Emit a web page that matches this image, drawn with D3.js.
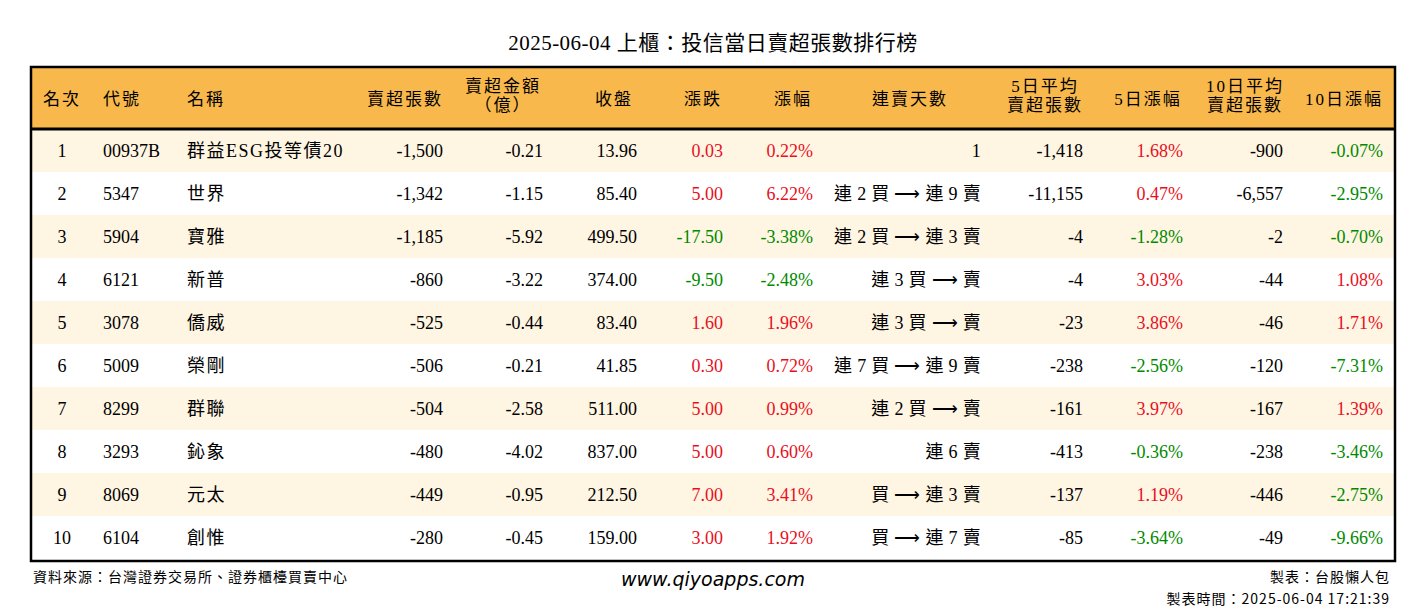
<!DOCTYPE html>
<html><head><meta charset="utf-8">
<script src="https://cdn.jsdelivr.net/npm/d3@7"></script>
<style>body{margin:0;background:#fff}</style>
</head><body>
<script>
var codes = ['00937B','5347','5904','6121','3078','5009','8299','3293','8069','6104'],
  names = ['群益ESG投等債20','世界','寶雅','新普','僑威','榮剛','群聯','鈊象','元太','創惟'],
  netSell = [-1500,-1342,-1185,-860,-525,-506,-504,-480,-449,-280],
  amount = [-0.21,-1.15,-5.92,-3.22,-0.44,-0.21,-2.58,-4.02,-0.95,-0.45],
  close = [13.96,85.40,499.50,374.00,83.40,41.85,511.00,837.00,212.50,159.00],
  change = [0.03,5.00,-17.50,-9.50,1.60,0.30,5.00,5.00,7.00,3.00],
  pct = [0.22,6.22,-3.38,-2.48,1.96,0.72,0.99,0.60,3.41,1.92],
  streak = ['1','連 2 買 ⟶ 連 9 賣','連 2 買 ⟶ 連 3 賣','連 3 買 ⟶ 賣','連 3 買 ⟶ 賣','連 7 買 ⟶ 連 9 賣','連 2 買 ⟶ 賣','連 6 賣','買 ⟶ 連 3 賣','買 ⟶ 連 7 賣'],
  avg5 = [-1418,-11155,-4,-4,-23,-238,-161,-413,-137,-85],
  pct5 = [1.68,0.47,-1.28,3.03,3.86,-2.56,3.97,-0.36,1.19,-3.64],
  avg10 = [-900,-6557,-2,-44,-46,-120,-167,-238,-446,-49],
  pct10 = [-0.07,-2.95,-0.70,1.08,1.71,-7.31,1.39,-3.46,-2.75,-9.66];

var W = 1426, H = 612, x0 = 31, x1 = 1395, hTop = 67, hBot = 129, rowH = 43;
var serif = "'Liberation Serif','Times New Roman','Noto Sans CJK TC',serif";
var loc = d3.formatLocale({decimal: '.', thousands: ',', grouping: [3], currency: ['', ''], minus: '-'});
var fmtInt = loc.format(','), f2 = loc.format('.2f');
var pc = function (v) { return f2(v) + '%'; };
var col = function (v) { return v > 0 ? '#e8101e' : v < 0 ? '#008a00' : '#000'; };

var svg = d3.select('body').append('svg').attr('width', W).attr('height', H)
  .style('font-family', serif);

svg.append('text').attr('x', W / 2).attr('y', 50).attr('text-anchor', 'middle')
  .attr('font-size', 21).attr('letter-spacing', 0.5).text('2025-06-04 上櫃：投信當日賣超張數排行榜');

var y = d3.scaleBand().domain(d3.range(10)).range([hBot, hBot + rowH * 10]);

svg.append('rect').attr('x', x0).attr('y', hTop).attr('width', x1 - x0).attr('height', hBot - hTop).attr('fill', '#f8b84b');
svg.selectAll('rect.row').data(d3.range(10)).enter().append('rect').attr('class', 'row')
  .attr('x', x0).attr('y', function (i) { return y(i); }).attr('width', x1 - x0).attr('height', rowH)
  .attr('fill', function (i) { return i % 2 ? '#fff' : '#fef5e3'; });

var cols = [
  {h: ['名次'], a: 'middle', x: 62, hx: 62, v: function (i) { return i + 1; }},
  {h: ['代號'], a: 'start', x: 103, hx: 103, v: function (i) { return codes[i]; }},
  {h: ['名稱'], a: 'start', x: 187, hx: 187, ls: 1.5, v: function (i) { return names[i]; }},
  {h: ['賣超張數'], a: 'end', x: 443, hx: 443, v: function (i) { return fmtInt(netSell[i]); }},
  {h: ['賣超金額', '（億）'], a: 'end', x: 543, hx: 503, v: function (i) { return f2(amount[i]); }},
  {h: ['收盤'], a: 'end', x: 637, hx: 614, v: function (i) { return f2(close[i]); }},
  {h: ['漲跌'], a: 'end', x: 723, hx: 703, v: function (i) { return f2(change[i]); }, c: function (i) { return col(change[i]); }},
  {h: ['漲幅'], a: 'end', x: 813, hx: 793, v: function (i) { return pc(pct[i]); }, c: function (i) { return col(pct[i]); }},
  {h: ['連賣天數'], a: 'end', x: 981, hx: 910, ls: 0.3, v: function (i) { return streak[i]; }},
  {h: ['5日平均', '賣超張數'], a: 'end', x: 1083, hx: 1045, v: function (i) { return fmtInt(avg5[i]); }},
  {h: ['5日漲幅'], a: 'end', x: 1183, hx: 1148, v: function (i) { return pc(pct5[i]); }, c: function (i) { return col(pct5[i]); }},
  {h: ['10日平均', '賣超張數'], a: 'end', x: 1283, hx: 1245, v: function (i) { return fmtInt(avg10[i]); }},
  {h: ['10日漲幅'], a: 'end', x: 1383, hx: 1344, v: function (i) { return pc(pct10[i]); }, c: function (i) { return col(pct10[i]); }}
];

cols.forEach(function (c) {
  var ha = (c.a === 'start' || c.hx === c.x) ? c.a : 'middle';
  c.h.forEach(function (t, k) {
    var yy = c.h.length === 1 ? 105 : 92 + k * 19;
    svg.append('text').attr('x', c.hx).attr('y', yy).attr('text-anchor', ha)
      .attr('font-size', 17).attr('letter-spacing', 2).text(t);
  });
  svg.selectAll(null).data(d3.range(10)).enter().append('text')
    .attr('x', c.x).attr('y', function (i) { return y(i) + rowH / 2 + 6; })
    .attr('text-anchor', c.a).attr('font-size', 18)
    .attr('letter-spacing', c.ls || 0)
    .attr('fill', function (i) { return c.c ? c.c(i) : '#000'; })
    .text(c.v);
});

svg.append('line').attr('x1', x0).attr('x2', x1).attr('y1', hBot).attr('y2', hBot).attr('stroke', '#000').attr('stroke-width', 3);
svg.append('rect').attr('x', x0).attr('y', hTop).attr('width', x1 - x0).attr('height', hBot + rowH * 10 - hTop + 2)
  .attr('fill', 'none').attr('stroke', '#000').attr('stroke-width', 2.5);

var foot = "'Noto Sans CJK TC','DejaVu Sans',sans-serif";
svg.append('text').attr('x', 33).attr('y', 582).attr('font-size', 14).attr('font-family', foot).attr('letter-spacing', 1).text('資料來源：台灣證券交易所、證券櫃檯買賣中心');
svg.append('text').attr('x', 713).attr('y', 586).attr('text-anchor', 'middle').attr('font-size', 19).attr('font-style', 'italic').attr('font-family', "'DejaVu Sans',sans-serif").text('www.qiyoapps.com');
svg.append('text').attr('x', 1390).attr('y', 582).attr('text-anchor', 'end').attr('font-size', 14).attr('font-family', foot).attr('letter-spacing', 1).text('製表：台股懶人包');
svg.append('text').attr('x', 1390).attr('y', 604).attr('text-anchor', 'end').attr('font-size', 14).attr('font-family', foot).attr('letter-spacing', 1).text('製表時間：2025-06-04 17:21:39');
</script>
</body></html>
